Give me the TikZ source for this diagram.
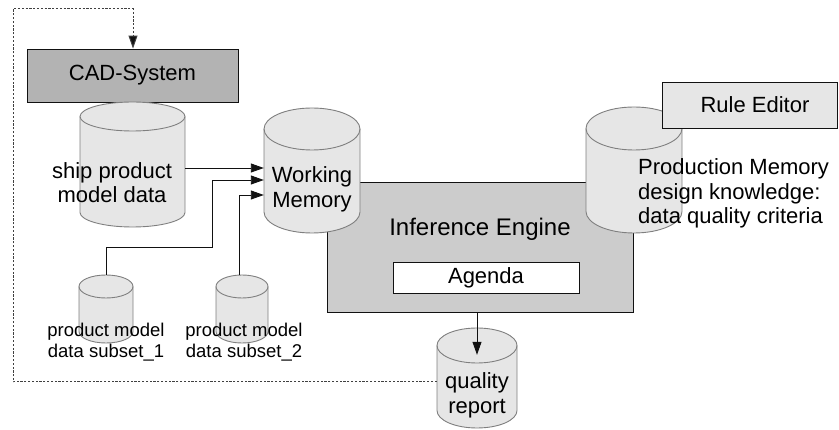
\documentclass[tikz,border=0pt]{standalone}
\usepackage{fontspec}
\setmainfont{Liberation Sans}
\usetikzlibrary{arrows.meta}
\definecolor{cylfill}{HTML}{E6E6E6}
\definecolor{cyldraw}{HTML}{7F7F7F}
\definecolor{cadfill}{HTML}{B3B3B3}
\definecolor{iefill}{HTML}{CCCCCC}
\definecolor{refill}{HTML}{E6E6E6}
\definecolor{dotcol}{HTML}{404040}
\definecolor{linecol}{HTML}{111111}
\tikzset{
  cylstyle/.style={fill=cylfill, draw=cyldraw, line width=0.9pt},
  boxstyle/.style={draw=linecol, line width=0.9pt, inner sep=0pt},
  txt/.style={font=\fontsize{22}{24.5}\selectfont, align=center, inner sep=0pt},
  smalltxt/.style={font=\fontsize{18.5}{20.5}\selectfont, align=center, inner sep=0pt},
  conn/.style={draw=linecol, line width=0.9pt, -{Triangle[length=13pt,width=9pt]}},
  fback/.style={draw=dotcol, line width=1pt, dash pattern=on 2.2pt off 1.6pt, -{Triangle[length=13pt,width=9pt,fill=linecol]}},
}
\newcommand\dbcyl[6]{% name, cx, top, bottom, rx, ry
  \filldraw[cylstyle] (#2-#5,{-(#3+#6)}) -- (#2-#5,{-(#4-#6)}) arc[start angle=180,end angle=360,x radius=#5pt,y radius=#6pt] -- (#2+#5,{-(#3+#6)}) arc[start angle=0,end angle=180,x radius=#5pt,y radius=#6pt] -- cycle;
  \draw[cylstyle, fill=none] (#2-#5,{-(#3+#6)}) arc[start angle=180,end angle=360,x radius=#5pt,y radius=#6pt];
  \node[inner sep=0pt, minimum width={2*#5}, minimum height={#4-#3}] (#1) at (#2,{-(#3+#4)/2}) {};
}
\begin{document}
\begin{tikzpicture}[x=1pt,y=1pt]
\useasboundingbox (0,0) rectangle (839,-430);
% CAD system
\node[boxstyle, fill=cadfill, minimum width=211, minimum height=53, txt] (cad) at (132.5,-75.5) {CAD-System};
\dbcyl{ship}{132.5}{102}{227}{52.5}{14.5}
% Inference engine
\node[boxstyle, fill=iefill, minimum width=306, minimum height=130] (ie) at (480,-247) {};
\node[txt, font=\fontsize{24}{26}\selectfont] (ietext) at (480,-229) {Inference Engine};
\node[boxstyle, fill=white, minimum width=186, minimum height=31, txt] (agenda) at (486,-277.5) {Agenda};
% memories
\dbcyl{wm}{312}{108}{233}{48}{21}
\dbcyl{pm}{634}{107}{233}{48}{21.5}
\node[boxstyle, fill=refill, minimum width=175, minimum height=46] (re) at (749.5,-105) {};
\node[txt] (retext) at (755,-105) {Rule Editor};
\dbcyl{sub1}{106}{275}{343}{27}{11.5}
\dbcyl{sub2}{242}{275}{343}{26}{11.5}
\dbcyl{qr}{477}{328}{428}{40}{17.5}
% texts
\node[txt] (shiptext) at (112,-182.5) {ship product\\model data};
\node[txt] (wmtext) at (312,-189.5) {Working\\Memory};
\node[txt, align=left, anchor=west] (pmtext) at (638,-193.5) {Production Memory\\design knowledge:\\data quality criteria};
\node[txt] (qrtext) at (477,-395.5) {quality\\report};
\node[smalltxt] (sub1text) at (106,-342) {product model\\data subset\_1};
\node[smalltxt] (sub2text) at (244,-342) {product model\\data subset\_2};
% connectors
\draw[conn] ([yshift=-3.5pt]ship.east) -- ([yshift=2.5pt]wm.west);
\draw[conn] (sub1.north) |- (212,-247) |- ([yshift=-9.5pt]wm.west);
\draw[conn] ([xshift=-3pt]sub2.north) |- ([yshift=-24.5pt]wm.west);
\draw[conn] ([xshift=-3pt]ie.south) -- ([yshift=-27pt]qr.north);
\draw[fback] ([yshift=-4pt]qr.west) -| (13,-9) -| ([xshift=0.5pt]cad.north);
\end{tikzpicture}
\end{document}
